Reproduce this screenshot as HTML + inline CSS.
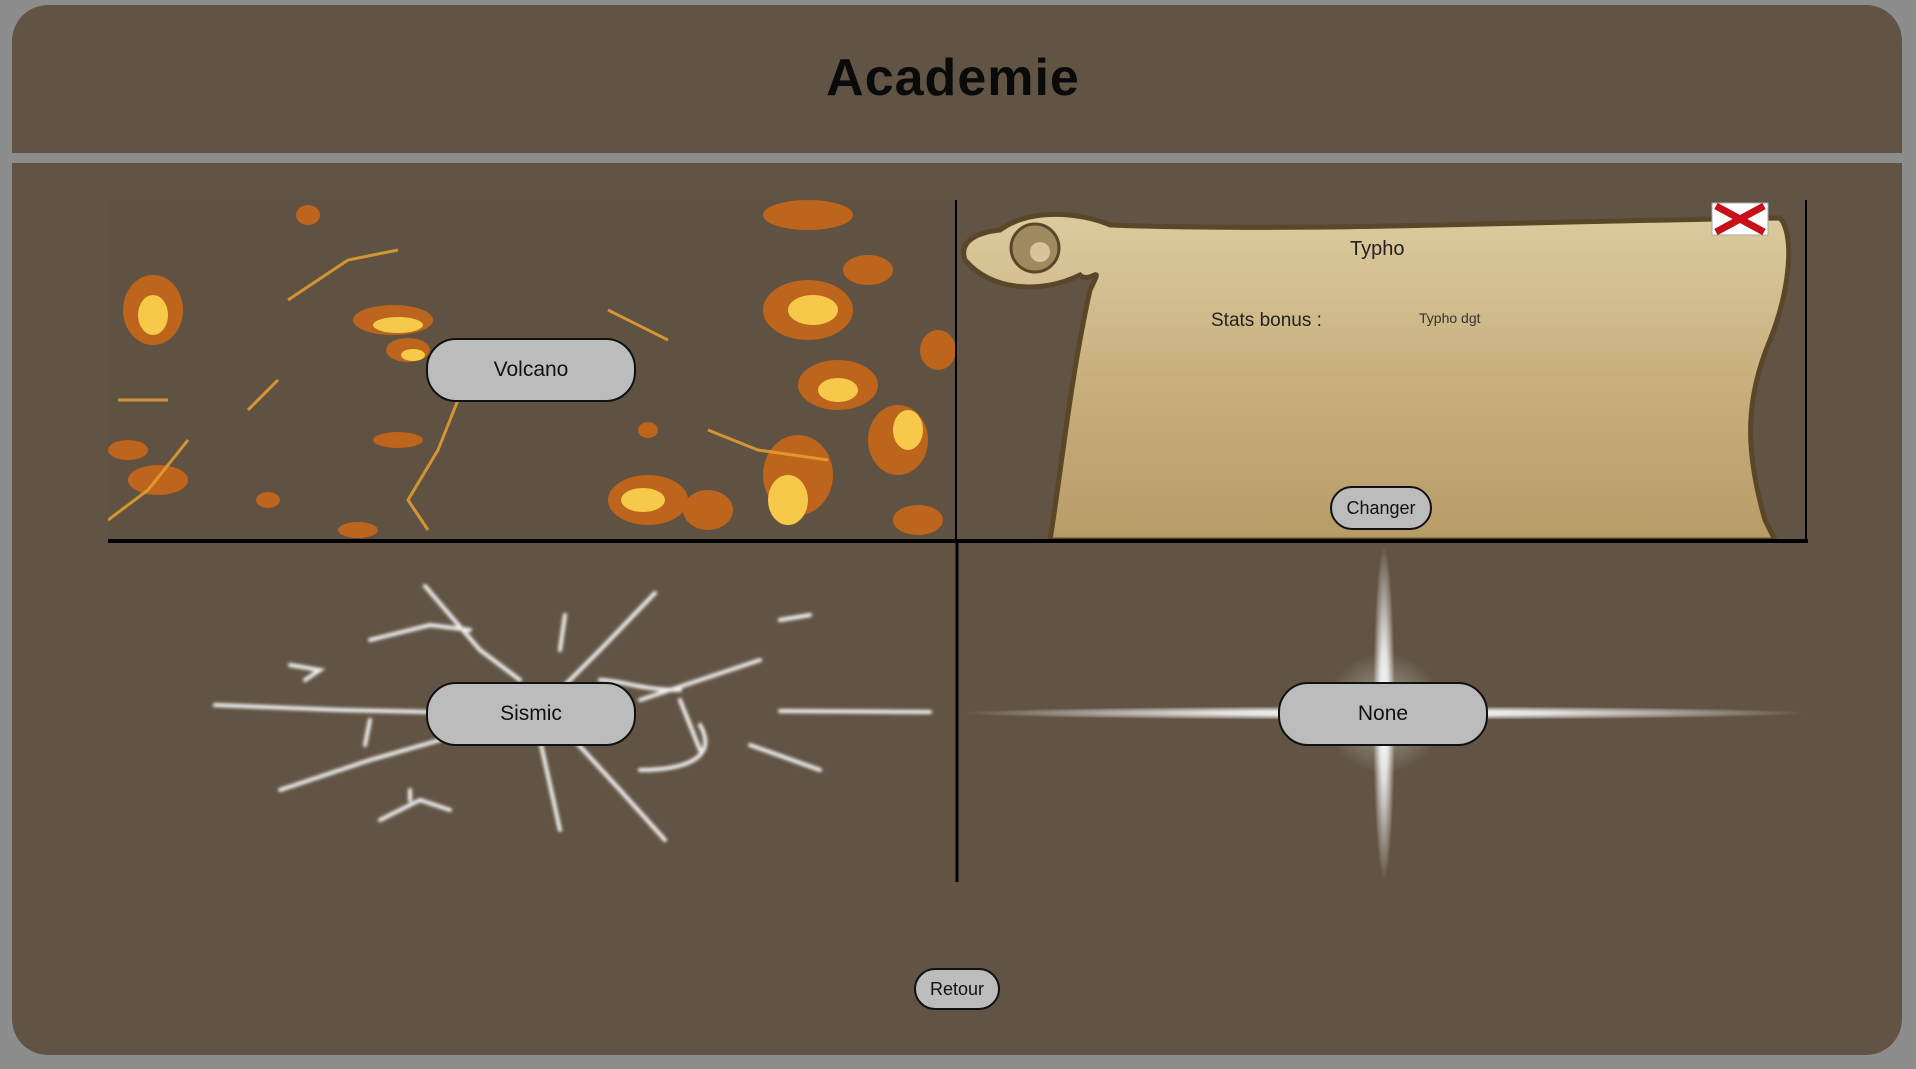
<!DOCTYPE html>
<html><head><meta charset="utf-8"><style>
html,body{margin:0;padding:0;width:1916px;height:1069px;overflow:hidden;background:#8d8d8d;font-family:"Liberation Sans",sans-serif}
.p{position:absolute;background:#615444}
.btn{position:absolute;background:#bcbcbc;border:2px solid #111;box-sizing:border-box;display:flex;align-items:center;justify-content:center;color:#111;border-radius:30px}
.t{position:absolute;color:#222;white-space:nowrap}
</style></head><body>
<div class="p" style="left:12px;top:5px;width:1890px;height:148px;border-radius:36px 36px 0 0"></div>
<div class="p" style="left:12px;top:163px;width:1890px;height:892px;border-radius:0 0 36px 36px"></div>
<div class="t" style="left:0;width:1906px;top:48px;text-align:center;font-size:52px;font-weight:bold;color:#0a0a0a;letter-spacing:1px">Academie</div>

<svg style="position:absolute;left:0;top:0" width="1916" height="1069">
<defs>
<linearGradient id="par" x1="0" y1="0" x2="0" y2="1"><stop offset="0" stop-color="#dccb9f"/><stop offset="0.5" stop-color="#c8b07e"/><stop offset="1" stop-color="#b89c68"/></linearGradient>
<radialGradient id="gh" cx="0.5" cy="0.5" r="0.5"><stop offset="0" stop-color="#fff"/><stop offset="0.4" stop-color="#f0f0f0" stop-opacity="0.9"/><stop offset="1" stop-color="#fff" stop-opacity="0"/></radialGradient>
<filter id="bl"><feGaussianBlur stdDeviation="1.5"/></filter>
<clipPath id="lc"><rect width="848" height="340"/></clipPath>
</defs>
<!-- lava -->
<g transform="translate(108,200)" clip-path="url(#lc)">
<rect width="848" height="340" fill="#5f5242"/>
<g fill="#c8661a" opacity="0.9">
<ellipse cx="45" cy="110" rx="30" ry="35"/><ellipse cx="285" cy="120" rx="40" ry="15"/><ellipse cx="300" cy="150" rx="22" ry="12"/>
<ellipse cx="480" cy="155" rx="25" ry="15"/><ellipse cx="290" cy="240" rx="25" ry="8"/><ellipse cx="700" cy="110" rx="45" ry="30"/>
<ellipse cx="730" cy="185" rx="40" ry="25"/><ellipse cx="690" cy="275" rx="35" ry="40"/>
<ellipse cx="540" cy="230" rx="10" ry="8"/>
<ellipse cx="790" cy="240" rx="30" ry="35"/>
<ellipse cx="540" cy="300" rx="40" ry="25"/><ellipse cx="600" cy="310" rx="25" ry="20"/>
<ellipse cx="830" cy="150" rx="18" ry="20"/><ellipse cx="700" cy="15" rx="45" ry="15"/><ellipse cx="50" cy="280" rx="30" ry="15"/><ellipse cx="160" cy="300" rx="12" ry="8"/>
<ellipse cx="20" cy="250" rx="20" ry="10"/><ellipse cx="200" cy="15" rx="12" ry="10"/>
<ellipse cx="760" cy="70" rx="25" ry="15"/><ellipse cx="810" cy="320" rx="25" ry="15"/><ellipse cx="250" cy="330" rx="20" ry="8"/>
</g>
<g fill="#f6c94a">
<ellipse cx="45" cy="115" rx="15" ry="20"/><ellipse cx="290" cy="125" rx="25" ry="8"/><ellipse cx="305" cy="155" rx="12" ry="6"/>
<ellipse cx="705" cy="110" rx="25" ry="15"/><ellipse cx="680" cy="300" rx="20" ry="25"/>
<ellipse cx="535" cy="300" rx="22" ry="12"/><ellipse cx="800" cy="230" rx="15" ry="20"/><ellipse cx="730" cy="190" rx="20" ry="12"/>
<ellipse cx="480" cy="158" rx="10" ry="6"/>
</g>
<g stroke="#e8a030" stroke-width="3" fill="none" opacity="0.85">
<path d="M0 320 L40 290 L80 240"/><path d="M180 100 L240 60 L290 50"/><path d="M320 330 L300 300 L330 250 L350 200"/>
<path d="M600 230 L650 250 L720 260"/><path d="M500 110 L560 140"/><path d="M10 200 L60 200"/><path d="M140 210 L170 180"/>
</g>
</g>
<!-- parchment -->
<rect x="956" y="200" width="850" height="341" fill="#615444"/>
<path d="M1000 230 C1030 208 1080 212 1110 225 C1300 232 1500 222 1780 218 C1795 235 1790 290 1770 340 C1745 400 1745 450 1765 520 L1775 540 L1050 540 C1060 480 1070 380 1090 290 C1105 260 1090 285 1080 275 C1040 295 990 290 965 260 C958 240 980 232 1000 230 Z" fill="url(#par)" stroke="#5a4628" stroke-width="5"/>
<circle cx="1035" cy="248" r="24" fill="#a08a60" stroke="#5a4628" stroke-width="3"/>
<circle cx="1040" cy="252" r="10" fill="#d6c49a"/>
<rect x="1712" y="203" width="56" height="32" fill="#fff" stroke="#aaa"/>
<path d="M1716 206 L1764 232 M1764 206 L1716 232" stroke="#c8101a" stroke-width="7"/>
<!-- sismic -->
<g stroke="#f2f2f2" stroke-width="4" stroke-linecap="round" fill="none" filter="url(#bl)">
<path d="M215 705 L340 710 L430 712"/><path d="M780 711 L930 712"/><path d="M425 586 L480 650 L520 680"/>
<path d="M655 593 L600 650 L560 690"/><path d="M565 730 L620 790 L665 840"/><path d="M540 740 L560 830"/>
<path d="M280 790 L370 760 L440 740"/><path d="M640 700 L700 680 L760 660"/><path d="M370 640 L430 625 L470 630"/>
<path d="M750 745 L820 770"/><path d="M380 820 L420 800 L450 810 M410 800 L410 790"/><path d="M290 665 L320 670 L305 680"/>
<path d="M565 615 L560 650"/><path d="M700 725 C720 760 680 770 640 770"/><path d="M370 720 L365 745"/><path d="M780 620 L810 615"/>
<path d="M600 680 C620 680 640 690 680 690"/><path d="M680 700 L700 750"/>
</g>
<!-- none star -->
<ellipse cx="1384" cy="713" rx="422" ry="7" fill="url(#gh)"/>
<ellipse cx="1384" cy="713" rx="11" ry="168" fill="url(#gh)"/>
<ellipse cx="1384" cy="713" rx="60" ry="60" fill="url(#gh)" opacity="0.35"/>
<!-- grid lines -->
<line x1="108" y1="541" x2="1808" y2="541" stroke="#000" stroke-width="4"/>
<line x1="956" y1="200" x2="956" y2="541" stroke="#000" stroke-width="2"/>
<line x1="957" y1="541" x2="957" y2="882" stroke="#000" stroke-width="3"/>
<line x1="1806" y1="200" x2="1806" y2="541" stroke="#000" stroke-width="2"/>
</svg>

<div class="btn" style="left:426px;top:338px;width:210px;height:64px;font-size:21px">Volcano</div>
<div class="btn" style="left:426px;top:682px;width:210px;height:64px;font-size:21px">Sismic</div>
<div class="btn" style="left:1278px;top:682px;width:210px;height:64px;font-size:21px">None</div>
<div class="btn" style="left:1330px;top:486px;width:102px;height:44px;font-size:18px">Changer</div>
<div class="btn" style="left:914px;top:968px;width:86px;height:42px;font-size:18px">Retour</div>
<div class="t" style="left:1350px;top:238px;font-size:20px">Typho</div>
<div class="t" style="left:1211px;top:310px;font-size:19px">Stats bonus :</div>
<div class="t" style="left:1419px;top:310px;font-size:14px;color:#333">Typho dgt</div>
</body></html>
